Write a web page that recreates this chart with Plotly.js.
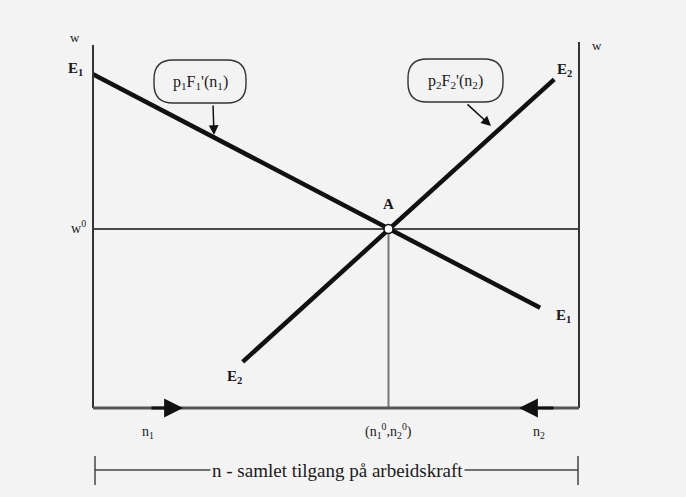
<!DOCTYPE html>
<html>
<head>
<meta charset="utf-8">
<script src="https://cdn.plot.ly/plotly-3.0.1.min.js"></script>
<style>html,body{margin:0;padding:0;background:#f3f3f3;}#chart{width:686px;height:497px;}</style>
</head>
<body>
<div id="chart"></div>
<script>
// ---- data (abstract units: n along x from 0 to 10, w along y) ----
const nAxisMax = 10;          // right vertical axis (n2 origin)
const wAxisTopLeft = 9.92;
const wAxisTopRight = 10.0;
const wEq = 4.89;             // w0
const nEq = 6.08;             // (n1^0, n2^0)
const e1N = [0, 9.20];        // p1 F1'(n1) line
const e1W = [9.12, 2.74];
const e2N = [3.08, 9.49];     // p2 F2'(n2) line
const e2W = [1.26, 8.98];
const labelE1Start = "E<sub>1</sub>";
const labelE1End = "E<sub>1</sub>";
const labelE2Start = "E<sub>2</sub>";
const labelE2End = "E<sub>2</sub>";
const labelA = "A";
const labelW = "w";
const labelW0 = "w<sup>0</sup>";
const labelN1 = "n<sub>1</sub>";
const labelN2 = "n<sub>2</sub>";
const labelNEq = "(n<sub>1</sub><sup>0</sup>,n<sub>2</sub><sup>0</sup>)";
const callout1 = "p<sub>1</sub>F<sub>1</sub>'(n<sub>1</sub>)";
const callout2 = "p<sub>2</sub>F<sub>2</sub>'(n<sub>2</sub>)";
const bottomText = "n - samlet tilgang på arbeidskraft";

// ---- geometry of the picture ----
const W = 686, H = 497;
const ox = 93, oy = 408, sx = 48.6, sy = 36.6;
const xr = [-ox / sx, (W - ox) / sx];
const yr = [-(H - oy) / sy, oy / sy];
const px2x = p => (p - ox) / sx;
const py2y = p => (oy - p) / sy;

const serif = "Liberation Serif, Times New Roman, serif";
const ink = "#1a1a1a";
const bg = "#f3f3f3";

function roundRectPaper(x0, y0, x1, y1, r) {
  const X = p => (p / W).toFixed(5);
  const Y = p => (1 - p / H).toFixed(5);
  return `M${X(x0 + r)},${Y(y0)} L${X(x1 - r)},${Y(y0)} Q${X(x1)},${Y(y0)} ${X(x1)},${Y(y0 + r)} ` +
         `L${X(x1)},${Y(y1 - r)} Q${X(x1)},${Y(y1)} ${X(x1 - r)},${Y(y1)} ` +
         `L${X(x0 + r)},${Y(y1)} Q${X(x0)},${Y(y1)} ${X(x0)},${Y(y1 - r)} ` +
         `L${X(x0)},${Y(y0 + r)} Q${X(x0)},${Y(y0)} ${X(x0 + r)},${Y(y0)} Z`;
}

const traces = [
  { x: e1N, y: e1W, mode: "lines", line: { color: "#111", width: 4.5 }, hoverinfo: "skip" },
  { x: e2N, y: e2W, mode: "lines", line: { color: "#111", width: 4.5 }, hoverinfo: "skip" },
  { x: [nEq], y: [wEq], mode: "markers", cliponaxis: false,
    marker: { size: 9, color: "#ffffff", line: { color: "#111", width: 1.5 } }, hoverinfo: "skip" }
];

const shapes = [
  // left and right w axes, bottom n axis
  { type: "line", xref: "x", yref: "y", x0: 0, x1: 0, y0: 0, y1: wAxisTopLeft, line: { color: "#333", width: 2 } },
  { type: "line", xref: "x", yref: "y", x0: nAxisMax, x1: nAxisMax, y0: 0, y1: wAxisTopRight, line: { color: "#333", width: 2 } },
  { type: "line", xref: "x", yref: "y", x0: 0, x1: nAxisMax, y0: 0, y1: 0, line: { color: "#555", width: 3 } },
  // w0 line and equilibrium drop line
  { type: "line", xref: "x", yref: "y", x0: 0, x1: nAxisMax, y0: wEq, y1: wEq, line: { color: "#111", width: 1.5 }, layer: "below" },
  { type: "line", xref: "x", yref: "y", x0: nEq, x1: nEq, y0: 0, y1: wEq, line: { color: "#777", width: 2 }, layer: "below" },
  // callout boxes
  { type: "path", xref: "paper", yref: "paper", path: roundRectPaper(154, 60, 246, 103, 19), line: { color: "#333", width: 1.4 }, fillcolor: bg },
  { type: "path", xref: "paper", yref: "paper", path: roundRectPaper(408, 59, 503, 102, 19), line: { color: "#333", width: 1.4 }, fillcolor: bg },
  // bottom bracket
  { type: "line", xref: "x", yref: "paper", x0: px2x(95), x1: px2x(578), y0: 1 - 470 / H, y1: 1 - 470 / H, line: { color: "#444", width: 1.5 } },
  { type: "line", xref: "x", yref: "paper", x0: px2x(95), x1: px2x(95), y0: 1 - 456 / H, y1: 1 - 485 / H, line: { color: "#444", width: 1.5 } },
  { type: "line", xref: "x", yref: "paper", x0: px2x(578), x1: px2x(578), y0: 1 - 456 / H, y1: 1 - 485 / H, line: { color: "#444", width: 1.5 } }
];

function lab(x, y, text, size) {
  return { x: x, y: y, xref: "x", yref: "y", text: text, showarrow: false,
    font: { family: serif, size: size || 14, color: ink } };
}
const bold = t => "<b>" + t + "</b>";

const bottomLabel = lab(px2x(337), py2y(470), bottomText, 19);
bottomLabel.bgcolor = bg;
bottomLabel.borderpad = 1;

const annotations = [
  lab(px2x(75), py2y(37), labelW, 13),
  lab(px2x(597), py2y(45), labelW, 13),
  lab(px2x(75), py2y(69), bold(labelE1Start), 15),
  lab(px2x(78), py2y(227), labelW0, 14),
  lab(px2x(234), py2y(377), bold(labelE2Start), 15),
  lab(px2x(388), py2y(204), bold(labelA), 15),
  lab(px2x(563), py2y(316), bold(labelE1End), 15),
  lab(px2x(564), py2y(70), bold(labelE2End), 15),
  lab(px2x(148), py2y(432), labelN1, 14),
  lab(px2x(539), py2y(432), labelN2, 14),
  lab(nEq, py2y(431), labelNEq, 14),
  lab(px2x(200), py2y(82), callout1, 16),
  lab(px2x(455), py2y(81), callout2, 16),
  bottomLabel,
  // callout arrows
  { x: px2x(214), y: py2y(135), ax: px2x(213), ay: py2y(104), xref: "x", yref: "y", axref: "x", ayref: "y",
    text: "", showarrow: true, arrowhead: 2, arrowsize: 1.3, arrowwidth: 1.5, arrowcolor: "#111" },
  { x: px2x(491), y: py2y(126), ax: px2x(466), ay: py2y(103), xref: "x", yref: "y", axref: "x", ayref: "y",
    text: "", showarrow: true, arrowhead: 2, arrowsize: 1.3, arrowwidth: 1.5, arrowcolor: "#111" },
  // direction arrows on the n axis
  { x: px2x(183), y: 0, ax: px2x(150), ay: 0, xref: "x", yref: "y", axref: "x", ayref: "y",
    text: "", showarrow: true, arrowhead: 2, arrowsize: 1.35, arrowwidth: 2.8, arrowcolor: "#111" },
  { x: px2x(519), y: 0, ax: px2x(555), ay: 0, xref: "x", yref: "y", axref: "x", ayref: "y",
    text: "", showarrow: true, arrowhead: 2, arrowsize: 1.35, arrowwidth: 2.8, arrowcolor: "#111" }
];

const layout = {
  width: W, height: H,
  margin: { l: 0, r: 0, t: 0, b: 0 },
  paper_bgcolor: bg, plot_bgcolor: bg,
  showlegend: false,
  xaxis: { range: xr, visible: false, fixedrange: true },
  yaxis: { range: yr, visible: false, fixedrange: true },
  shapes: shapes,
  annotations: annotations
};

Plotly.newPlot("chart", traces, layout, { staticPlot: true, displayModeBar: false });
</script>
</body>
</html>
